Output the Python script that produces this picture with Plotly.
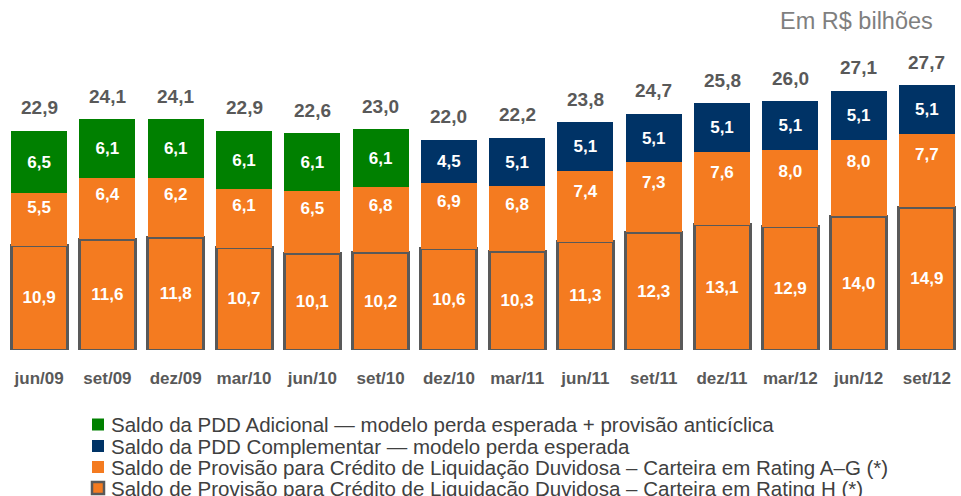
import plotly.graph_objects as go

categories = ["jun/09", "set/09", "dez/09", "mar/10", "jun/10", "set/10", "dez/10",
              "mar/11", "jun/11", "set/11", "dez/11", "mar/12", "jun/12", "set/12"]
rating_h = [10.9, 11.6, 11.8, 10.7, 10.1, 10.2, 10.6, 10.3, 11.3, 12.3, 13.1, 12.9, 14.0, 14.9]
rating_ag = [5.5, 6.4, 6.2, 6.1, 6.5, 6.8, 6.9, 6.8, 7.4, 7.3, 7.6, 8.0, 8.0, 7.7]
pdd_adicional = [6.5, 6.1, 6.1, 6.1, 6.1, 6.1, None, None, None, None, None, None, None, None]
pdd_complementar = [None, None, None, None, None, None, 4.5, 5.1, 5.1, 5.1, 5.1, 5.1, 5.1, 5.1]
totals = [22.9, 24.1, 24.1, 22.9, 22.6, 23.0, 22.0, 22.2, 23.8, 24.7, 25.8, 26.0, 27.1, 27.7]

names = [
    "Saldo da PDD Adicional — modelo perda esperada + provisão anticíclica",
    "Saldo da PDD Complementar — modelo perda esperada",
    "Saldo de Provisão para Crédito de Liquidação Duvidosa – Carteira em Rating A–G (*)",
    "Saldo de Provisão para Crédito de Liquidação Duvidosa – Carteira em Rating H (*)",
]

ORANGE = "#F47B20"
GREEN = "#008000"
NAVY = "#003366"
GREY = "#595959"
FONT = "Liberation Sans, Arial, sans-serif"

W, H = 961, 496
L, R, T, B = 5, 0, 63, 146
PW, PH = W - L - R, H - T - B


def px_x(px):
    return (px - L) / PW


def px_y(py):
    return (H - B - py) / PH


def fmt(v):
    return "" if v is None else f"{v:.1f}".replace(".", ",")


LABEL_FONT = dict(family=FONT, size=17, color="white", weight="bold")


def bar(vals, name, color, line=None, label=True):
    return go.Bar(
        x=categories, y=vals, name=name, showlegend=False,
        marker=dict(color=color, line=line or dict(width=0)),
        text=[fmt(v) for v in vals] if label else None,
        textposition="inside" if label else "none",
        insidetextanchor="middle", constraintext="none",
        textfont=LABEL_FONT,
        hoverinfo="skip",
    )


fig = go.Figure()
fig.add_trace(bar(rating_h, names[3], ORANGE, dict(color=GREY, width=3)))
fig.add_trace(bar(rating_ag, names[2], ORANGE, label=False))
fig.add_trace(bar(pdd_adicional, names[0], GREEN))
fig.add_trace(bar(pdd_complementar, names[1], NAVY))

# A–G labels sit in the upper part of their segment, as in the reference
fig.add_trace(go.Scatter(
    x=categories, y=[h + 0.7 * a for h, a in zip(rating_h, rating_ag)],
    mode="text", text=[fmt(a) for a in rating_ag], textfont=LABEL_FONT,
    showlegend=False, hoverinfo="skip", cliponaxis=False,
))

for c, t in zip(categories, totals):
    fig.add_annotation(x=c, y=t, text=fmt(t), showarrow=False, yanchor="middle",
                       yshift=23, font=dict(family=FONT, size=19, color=GREY, weight="bold"))

fig.add_annotation(x=px_x(935), y=px_y(21), xref="paper", yref="paper", text="Em R$ bilhões",
                   showarrow=False, xanchor="right", yanchor="middle",
                   font=dict(family=FONT, size=23.5, color="#7F7F7F"))

# legend drawn as squares + text
legend_colors = [(GREEN, None), (NAVY, None), (ORANGE, None), (ORANGE, GREY)]
legend_centers = [424.5, 446, 467, 488]
for (fill, border), name, cy in zip(legend_colors, names, legend_centers):
    fig.add_shape(type="rect", xref="paper", yref="paper",
                  x0=px_x(92), x1=px_x(104), y0=px_y(cy + 6), y1=px_y(cy - 6),
                  fillcolor=fill,
                  line=dict(color=border or fill, width=2.5 if border else 0))
    fig.add_annotation(x=px_x(109), y=px_y(cy), xref="paper", yref="paper", text=name,
                       showarrow=False, xanchor="left", yanchor="middle",
                       font=dict(family=FONT, size=20.5, color="#404040"))

fig.update_layout(
    width=W, height=H,
    margin=dict(l=L, r=R, t=T, b=B, autoexpand=False),
    barmode="stack", bargap=0.18,
    plot_bgcolor="white", paper_bgcolor="white",
    font=dict(family=FONT),
    showlegend=False,
    xaxis=dict(showgrid=False, showline=False, zeroline=False, ticks="",
               automargin=False, ticklabelstandoff=16,
               range=[-0.5, len(categories) - 0.5],
               tickfont=dict(family=FONT, size=17, color=GREY, weight="bold")),
    yaxis=dict(visible=False, range=[0, 30], automargin=False),
)

fig.write_html("out.html", config={"displayModeBar": False},
               post_script="document.body.style.margin='0px';")
